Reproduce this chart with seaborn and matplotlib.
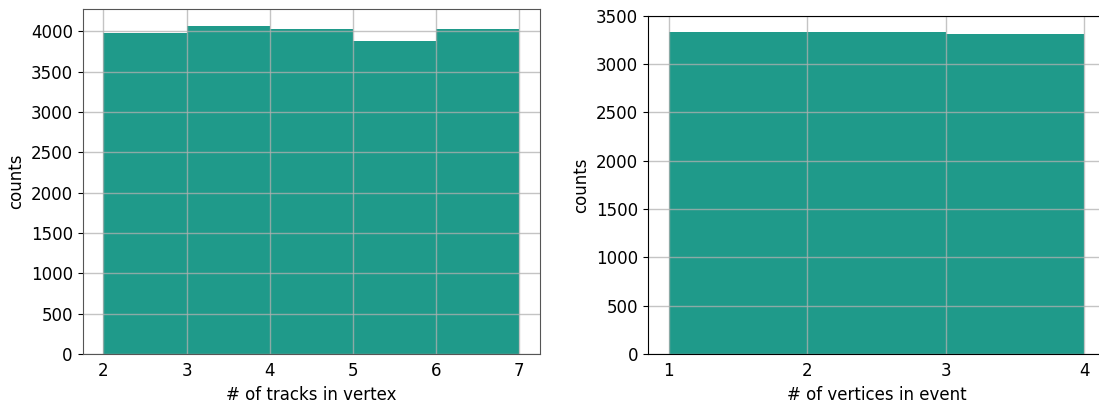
import matplotlib
matplotlib.use("Agg")
import matplotlib.pyplot as plt
import seaborn as sns
import numpy as np

# tracks per vertex histogram
track_bins = [2, 3, 4, 5, 6, 7]
track_counts = [3985, 4070, 4030, 3885, 4030]

# vertices per event histogram
vertex_bins = [1, 2, 3, 4]
vertex_counts = [3330, 3328, 3310]

bar_color = '#1f9a8a'

plt.rcParams['font.family'] = ['DejaVu Sans']
plt.rcParams['font.size'] = 12

fig = plt.figure(figsize=(10.99, 4.04), dpi=100)
ax1 = fig.add_axes([0.0751, 0.1238, 0.4163, 0.853])
ax2 = fig.add_axes([0.5896, 0.1238, 0.4158, 0.8374])

sns.histplot(x=track_bins[:-1], weights=track_counts, bins=track_bins,
             color=bar_color, alpha=1, linewidth=0, ax=ax1)
sns.histplot(x=vertex_bins[:-1], weights=vertex_counts, bins=vertex_bins,
             color=bar_color, alpha=1, linewidth=0, ax=ax2)

ax1.set_xlabel('# of tracks in vertex')
ax2.set_xlabel('# of vertices in event')
for ax in (ax1, ax2):
    ax.set_ylabel('counts')
    ax.set_axisbelow(False)
    ax.grid(True, color='#b0b0b0', alpha=0.75, linewidth=1.0)
    ax.tick_params(axis='x', length=0, pad=6)
    ax.tick_params(axis='y', length=3.5)
    ax.margins(x=0.05)
    for s in ax.spines.values():
        s.set_zorder(5)

ax1.set_xticks(track_bins)
ax2.set_xticks(vertex_bins)
ax1.set_yticks(np.arange(0, 4001, 500))
ax2.set_yticks(np.arange(0, 3501, 500))
ax2.set_ylim(0, 3500)

for s in ax1.spines.values():
    s.set_color('#555555')
ax2.spines['right'].set_visible(False)

fig.savefig('out.png', dpi=100)
